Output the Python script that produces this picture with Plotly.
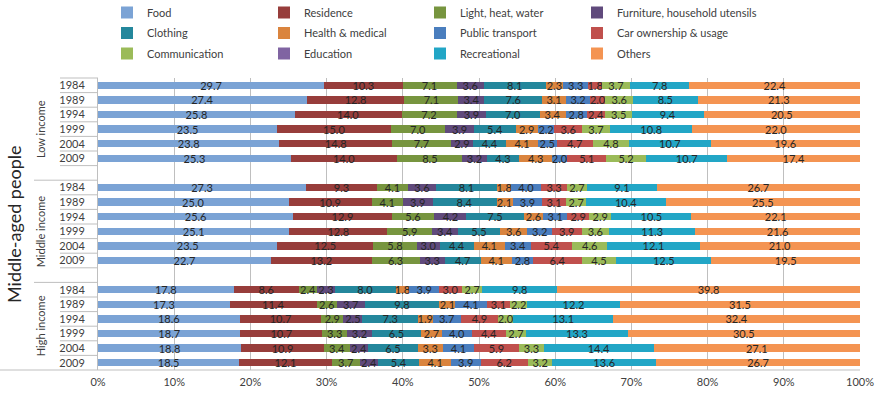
import plotly.graph_objects as go

# Expenditure categories (stack order, left to right)
categories = [
    "Food", "Residence", "Light, heat, water", "Furniture, household utensils",
    "Clothing", "Health & medical", "Public transport", "Car ownership & usage",
    "Communication", "Education", "Recreational", "Others",
]
colors = [
    "#7BA3D5", "#973D3B", "#77953F", "#604A7C",
    "#24879C", "#DA843E", "#4A7EBE", "#C0504D",
    "#9BBB59", "#8064A2", "#22A6C6", "#F49452",
]

years = ["1984", "1989", "1994", "1999", "2004", "2009"]
groups = ["Low income", "Middle income", "High income"]
x_ticks = [0, 10, 20, 30, 40, 50, 60, 70, 80, 90, 100]
x_tick_labels = ["0%", "10%", "20%", "30%", "40%", "50%",
                 "60%", "70%", "80%", "90%", "100%"]

# Shares (%) per year, one list per category order above (no education entry)
low_income = [
    [29.7, 10.3, 7.1, 3.6, 8.1, 2.3, 3.3, 1.8, 3.7, None, 7.8, 22.4],
    [27.4, 12.8, 7.1, 3.4, 7.6, 3.1, 3.2, 2.0, 3.6, None, 8.5, 21.3],
    [25.8, 14.0, 7.2, 3.9, 7.0, 3.4, 2.8, 2.4, 3.5, None, 9.4, 20.5],
    [23.5, 15.0, 7.0, 3.9, 5.4, 2.9, 2.2, 3.6, 3.7, None, 10.8, 22.0],
    [23.8, 14.8, 7.7, 2.9, 4.4, 4.1, 2.5, 4.7, 4.8, None, 10.7, 19.6],
    [25.3, 14.0, 8.5, 3.2, 4.3, 4.3, 2.0, 5.1, 5.2, None, 10.7, 17.4],
]
middle_income = [
    [27.3, 9.3, 4.1, 3.6, 8.1, 1.8, 4.0, 3.3, 2.7, None, 9.1, 26.7],
    [25.0, 10.9, 4.1, 3.9, 8.4, 2.1, 3.9, 3.1, 2.7, None, 10.4, 25.5],
    [25.6, 12.9, 5.6, 4.2, 7.5, 2.6, 3.1, 2.9, 2.9, None, 10.5, 22.1],
    [25.1, 12.8, 5.9, 3.4, 5.5, 3.6, 3.2, 3.9, 3.6, None, 11.3, 21.6],
    [23.5, 12.5, 5.8, 3.0, 4.4, 4.1, 3.4, 5.4, 4.6, None, 12.1, 21.0],
    [22.7, 13.2, 6.3, 3.3, 4.7, 4.1, 2.8, 6.4, 4.5, None, 12.5, 19.5],
]
high_income = [
    [17.8, 8.6, 2.4, 2.3, 8.0, 1.8, 3.9, 3.0, 2.7, None, 9.8, 39.8],
    [17.3, 11.4, 2.6, 3.7, 9.8, 2.1, 4.1, 3.1, 2.2, None, 12.2, 31.5],
    [18.6, 10.7, 2.9, 2.5, 7.3, 1.9, 3.7, 4.9, 2.0, None, 13.1, 32.4],
    [18.7, 10.7, 3.3, 3.2, 6.5, 2.7, 4.0, 4.4, 2.7, None, 13.3, 30.5],
    [18.8, 10.9, 3.4, 2.4, 6.5, 3.3, 4.1, 5.9, 3.3, None, 14.4, 27.1],
    [18.5, 12.1, 3.7, 2.4, 5.4, 4.1, 3.9, 6.2, 3.2, None, 13.6, 26.7],
]
group_data = [low_income, middle_income, high_income]

FONT = "Lato"
TXT = "#404040"
GRID = "#BFBFBF"

# Row slots: 6 years per group, one empty slot after the first two groups
slots, tick_text, rows = [], [], []
slot = 0
for g, data in enumerate(group_data):
    for yr, vals in zip(years, data):
        slots.append(slot)
        tick_text.append(yr)
        rows.append(vals)
        slot += 1
    if g < len(group_data) - 1:
        slot += 1
n_slots = slot  # 20

legend_ids = ["legend", "legend2", "legend3", "legend4"]

fig = go.Figure()
for c, (name, col) in enumerate(zip(categories, colors)):
    xs = [r[c] if r[c] is not None else 0 for r in rows]
    texts = [f"{r[c]:.1f}" if r[c] is not None else "" for r in rows]
    fig.add_trace(go.Bar(
        y=slots, x=xs, name=name, orientation="h",
        legend=legend_ids[c % 4], legendgroup=name,
        marker=dict(color=col, line=dict(width=0)),
        width=0.5,
        text=texts, textposition="inside", insidetextanchor="middle",
        textangle=0, constraintext="none",
        insidetextfont=dict(family=FONT, size=11, color="#262626"),
        hoverinfo="name+x",
    ))

# Category-axis separators drawn in paper space
ax_l, ax_w = 98, 762
plot_t, plot_h = 78, 292


def px_to_paper_x(px):
    return (px - ax_l) / ax_w


def px_to_paper_y(py):
    return 1 - (py - plot_t) / plot_h


def boundary_to_paper_y(b):
    return 1 - b / n_slots


shapes = []
year_bounds = [0, 1, 2, 3, 4, 5, 6, 8, 9, 10, 11, 12, 13, 15, 16, 17, 18, 19]
for b in year_bounds:
    shapes.append(dict(type="line", xref="paper", yref="paper",
                       x0=px_to_paper_x(60), x1=0,
                       y0=boundary_to_paper_y(b), y1=boundary_to_paper_y(b),
                       line=dict(color=GRID, width=1)))
for b in [7, 14]:
    shapes.append(dict(type="line", xref="paper", yref="paper",
                       x0=px_to_paper_x(34), x1=0,
                       y0=boundary_to_paper_y(b), y1=boundary_to_paper_y(b),
                       line=dict(color=GRID, width=1)))
shapes.append(dict(type="line", xref="paper", yref="paper",
                   x0=px_to_paper_x(0), x1=1,
                   y0=0, y1=0, line=dict(color=GRID, width=1)))

annotations = []
group_centers = [3.5, 10.5, 17.0]
for name, cb in zip(groups, group_centers):
    annotations.append(dict(
        text=name, xref="paper", yref="paper",
        x=px_to_paper_x(40), y=boundary_to_paper_y(cb),
        showarrow=False, textangle=-90,
        font=dict(family=FONT, size=11, color=TXT),
        xanchor="center", yanchor="middle",
    ))
annotations.append(dict(
    text="Middle-aged people", xref="paper", yref="paper",
    x=px_to_paper_x(14), y=0.5, showarrow=False, textangle=-90,
    font=dict(family=FONT, size=18, color="#262626"),
    xanchor="center", yanchor="middle",
))

legend_left_px = [107, 264, 420, 577]
legend_common = dict(
    orientation="v", yanchor="top", xanchor="left",
    y=px_to_paper_y(-2), traceorder="grouped", tracegroupgap=1.5,
    font=dict(family=FONT, size=11, color=TXT),
    itemwidth=30, bgcolor="rgba(0,0,0,0)",
)

layout_legends = {}
for lid, lx in zip(legend_ids, legend_left_px):
    layout_legends[lid] = dict(x=px_to_paper_x(lx), **legend_common)

fig.update_layout(
    width=876, height=395,
    margin=dict(l=ax_l, r=876 - ax_l - ax_w, t=plot_t,
                b=395 - plot_t - plot_h, autoexpand=False),
    barmode="stack", barnorm="percent",
    plot_bgcolor="white", paper_bgcolor="white",
    font=dict(family=FONT, size=11, color=TXT),
    uniformtext=dict(minsize=11, mode="show"),
    showlegend=True,
    xaxis=dict(
        range=[0, 100], tickmode="array", tickvals=x_ticks,
        ticktext=x_tick_labels,
        showgrid=True, gridcolor=GRID, gridwidth=1,
        zeroline=False, showline=False, ticks="", ticklabelstandoff=4,
        tickfont=dict(family=FONT, size=11, color=TXT),
        fixedrange=True,
    ),
    yaxis=dict(
        range=[n_slots - 0.5, -0.5], tickvals=slots, ticktext=tick_text,
        showgrid=False, zeroline=False, showline=True, linecolor=GRID,
        ticks="", ticklabelstandoff=10,
        tickfont=dict(family=FONT, size=11, color=TXT),
        fixedrange=True,
    ),
    shapes=shapes, annotations=annotations,
    **layout_legends,
)

fig.write_html("out.html")
